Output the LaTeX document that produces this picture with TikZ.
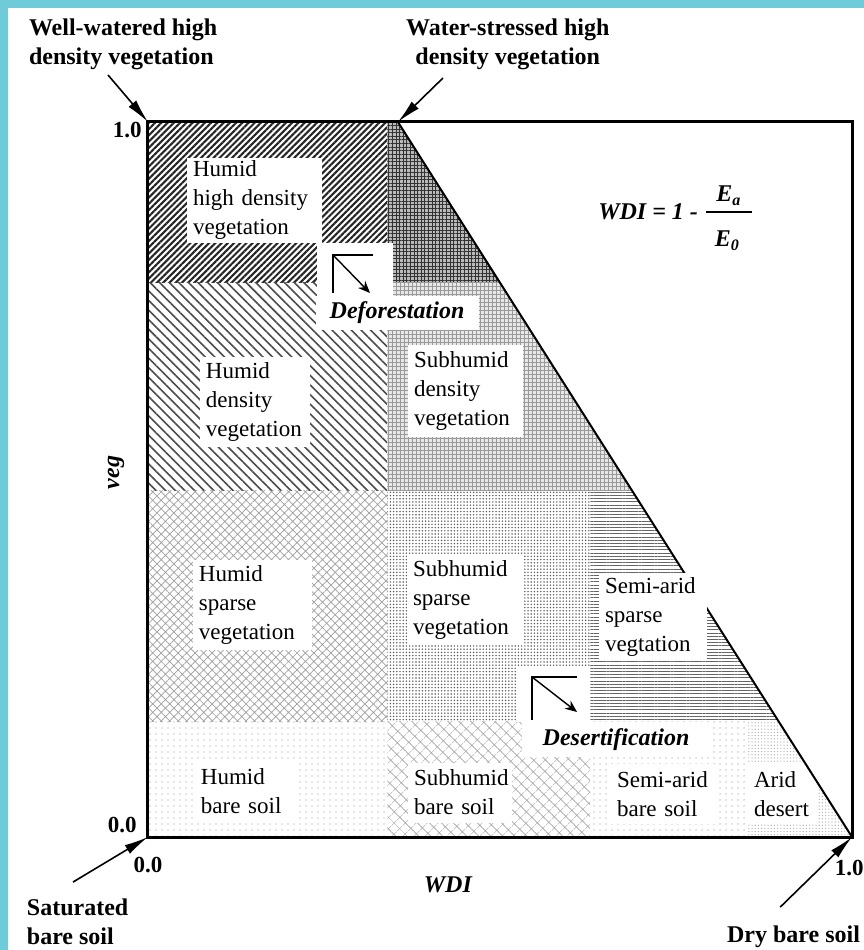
\documentclass[tikz,border=0pt]{standalone}
\usepackage{fontspec}
\setmainfont{Liberation Serif}
\usetikzlibrary{arrows.meta,patterns.meta}
\definecolor{frameblue}{RGB}{112,203,216}
\tikzset{
	zone/.style={fill=white,align=left,inner xsep=3pt,inner ysep=0pt,font=\fontsize{11.5}{14.5}\selectfont},
	corner/.style={font=\bfseries\fontsize{12}{14.5}\selectfont,align=left},
	tick/.style={font=\bfseries\fontsize{11.5}{13}\selectfont,inner sep=0pt},
	bolditalic/.style={font=\bfseries\itshape\fontsize{12}{14}\selectfont},
	callout/.style={-{Latex[length=12pt,width=5pt]},line width=0.8pt},
	trend/.style={-{Stealth[length=6pt,width=5pt]},line width=0.7pt},
	% textures of the zones
	densehatch/.style={pattern={Lines[angle=45,distance=2.2pt,line width=1.05pt]},pattern color=black!85},
	darkgrid/.style={fill=gray!55,postaction={pattern={Hatch[angle=0,distance=1.8pt,line width=0.45pt]},pattern color=black!80}},
	backhatch/.style={pattern={Lines[angle=-45,distance=3.4pt,line width=0.8pt]},pattern color=black!70},
	lightgrid/.style={fill=gray!18,postaction={pattern={Hatch[angle=0,distance=2pt,line width=0.35pt]},pattern color=gray!80}},
	meshhatch/.style={pattern={Hatch[angle=45,distance=3pt,line width=0.35pt]},pattern color=gray!75},
	speckle/.style={pattern={Dots[distance=1.6pt,radius=0.4pt]},pattern color=black!65},
	rowlines/.style={pattern={Lines[angle=0,distance=1.6pt,line width=0.5pt]},pattern color=black!60},
	sparsedots/.style={pattern={Dots[distance=3pt,radius=0.35pt]},pattern color=gray!80},
	finecross/.style={pattern={Hatch[angle=45,distance=4pt,line width=0.3pt]},pattern color=gray!70},
	finedots/.style={pattern={Dots[distance=1.6pt,radius=0.3pt]},pattern color=gray!70},
}

\begin{document}
\begin{tikzpicture}[x=352pt,y=357.5pt]
	\useasboundingbox (-0.2102,-0.1580) rectangle (1.0170,1.1706);
	% blue strip on the left and on top
	\fill[frameblue] (-0.2102,-0.1580) rectangle (1.0170,1.1706);
	\fill[white] (-0.1989,-0.1580) rectangle (1.0170,1.1594);
	\coordinate (O) at (0,0);
	\coordinate (WW) at (0,1);
	\coordinate (WS) at (0.355,1);
	\coordinate (DS) at (1,0);
	\begin{scope}
		\clip (O) -- (WW) -- (WS) -- (DS) -- cycle;
		% high density
		\fill[densehatch] (0,0.775) rectangle (0.34,1);
		\fill[darkgrid] (0.34,0.775) rectangle (1,1);
		% density
		\fill[backhatch] (0,0.485) rectangle (0.34,0.775);
		\fill[lightgrid] (0.34,0.485) rectangle (1,0.775);
		% sparse
		\fill[meshhatch] (0,0.161) rectangle (0.34,0.485);
		\fill[speckle] (0.34,0.161) rectangle (0.628,0.485);
		\fill[rowlines] (0.628,0.161) rectangle (1,0.485);
		% bare soil
		\fill[sparsedots] (0,0) rectangle (0.34,0.161);
		\fill[finecross] (0.34,0) rectangle (0.628,0.161);
		\fill[sparsedots] (0.628,0) rectangle (0.85,0.161);
		\fill[finedots] (0.85,0) rectangle (1,0.161);
	\end{scope}
	% zone names
	\node[zone,text width=61.5pt,minimum height=42.5pt] (hhd) at (0.1513,0.8902) {Humid\\high density\\vegetation};
	\node[zone,text width=49pt,minimum height=45pt] (hd) at (0.1520,0.6084) {Humid\\density\\vegetation};
	\node[zone,text width=51.5pt,minimum height=46pt] (shd) at (0.4510,0.6238) {Subhumid\\density\\vegetation};
	\node[zone,text width=53.5pt,minimum height=45pt] (hs) at (0.1484,0.3245) {Humid\\sparse\\vegetation};
	\node[zone,text width=52pt,minimum height=45pt] (shs) at (0.4503,0.3315) {Subhumid\\sparse\\vegetation};
	\node[zone,text width=46pt,minimum height=31pt] (hb) at (0.1406,0.0643) {Humid\\bare soil};
	\node[zone,text width=46pt,minimum height=30pt] (shb) at (0.4432,0.0622) {Subhumid\\bare soil};
	\node[zone,text width=47pt,minimum height=30pt] (sab) at (0.7330,0.0601) {Semi-arid\\bare soil};
	\node[zone,text width=28.5pt,minimum height=30pt] (ad) at (0.9013,0.0601) {Arid\\desert};
	% deforestation
	\fill[white] (0.2401,0.7538) rectangle (0.3480,0.8308);
	\node[bolditalic,fill=white,minimum width=81.5pt,minimum height=17pt,inner sep=0pt] (defo) at (0.3537,0.7329) {Deforestation};
	\coordinate (dfc) at (0.2628,0.8140);
	\draw[line width=0.7pt] (dfc) ++(0,-0.0532) -- (dfc) -- ++(0.0568,0);
	\draw[trend] (dfc) -- ++(0.0525,-0.0532);
	% desertification
	\fill[white] (0.5241,0.1608) rectangle (0.6278,0.2378);
	\node[bolditalic,fill=white,minimum width=94pt,minimum height=17.5pt,inner sep=0pt] (dese) at (0.6648,0.1364) {Desertification};
	\coordinate (dsc) at (0.5455,0.2238);
	\draw[line width=0.7pt] (dsc) ++(0,-0.0602) -- (dsc) -- ++(0.0639,0);
	\draw[trend] (dsc) -- ++(0.0639,-0.049);
	% frame and dry edge
	\draw[line width=1.5pt] (O) rectangle (1,1);
	\draw[line width=1pt] (WS) -- (DS);
	\node[zone,text width=48pt,minimum height=43.5pt] (sas) at (0.7173,0.3084) {Semi-arid\\sparse\\vegtation};
	% index
	\node[bolditalic,anchor=west,inner sep=0pt] (wdieq) at (0.639,0.874) {WDI = 1 -};
	\node[bolditalic] (ea) at (0.825,0.897) {E\textsubscript{a}};
	\node[bolditalic] (e0) at (0.823,0.834) {E\textsubscript{0}};
	\draw[line width=1.1pt] (0.792,0.874) -- (0.858,0.874);
	% axes
	\node[tick,anchor=east] (y1) at (-0.0085,0.9888) {1.0};
	\node[tick,anchor=east] (y0) at (-0.0156,0.0168) {0.0};
	\node[tick] (x0) at (0,-0.039) {0.0};
	\node[tick,anchor=west] (x1) at (0.975,-0.0434) {1.0};
	\node[bolditalic] (xlab) at (0.426,-0.067) {WDI};
	\node[bolditalic,rotate=90] (ylab) at (-0.0455,0.510) {veg};
	% corner states
	\node[corner,anchor=west] (wwlab) at (-0.179,1.109) {Well-watered high\\density vegetation};
	\node[corner,align=center] (wslab) at (0.511,1.109) {Water-stressed high\\density vegetation};
	\node[corner,anchor=west] (satlab) at (-0.182,-0.119) {Saturated\\bare soil};
	\node[corner,anchor=west] (drylab) at (0.8125,-0.140) {Dry bare soil};
	\coordinate (wwtail) at (-0.0568,1.0657);
	\coordinate (wstail) at (0.419,1.0615);
	\coordinate (sattail) at (-0.1065,-0.063);
	\coordinate (drytail) at (0.898,-0.098);
	\draw[callout] (wwtail) -- (WW);
	\draw[callout] (wstail) -- (WS);
	\draw[callout] (sattail) -- (O);
	\draw[callout] (drytail) -- (DS);
\end{tikzpicture}
\end{document}
